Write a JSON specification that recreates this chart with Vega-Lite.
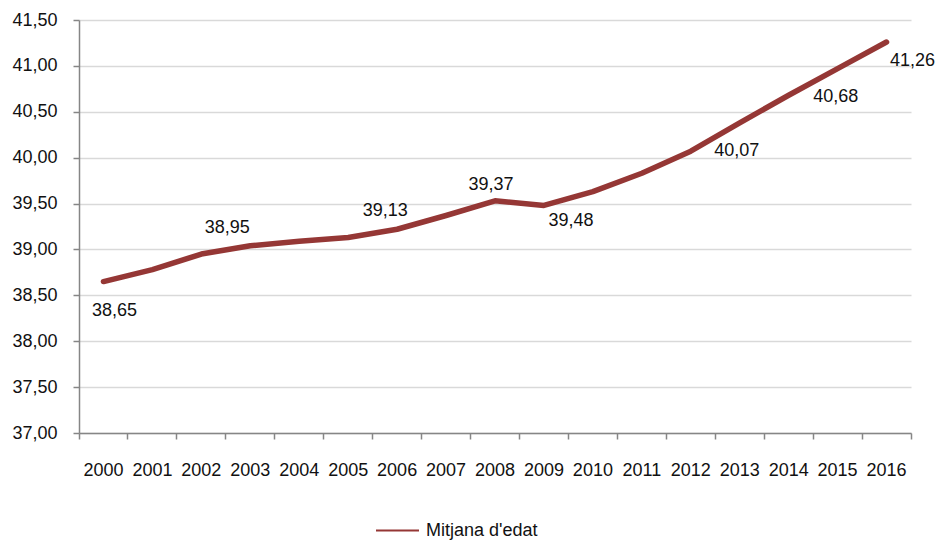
{
  "$schema": "https://vega.github.io/schema/vega-lite/v6.json",
  "width": 832,
  "height": 413,
  "autosize": {"type": "none"},
  "padding": {"left": 79, "top": 20, "right": 28, "bottom": 107},
  "background": "white",
  "config": {
    "locale": {"number": {"decimal": ",", "thousands": ".", "grouping": [3], "currency": ["", " €"]}},
    "view": {"stroke": null},
    "font": "Liberation Sans",
    "text": {"font": "Liberation Sans", "fontSize": 18, "color": "#111111"}
  },
  "data": {
    "values": [
      {"year": 2000, "edat": 38.65, "serie": "Mitjana d'edat"},
      {"year": 2001, "edat": 38.78, "serie": "Mitjana d'edat"},
      {"year": 2002, "edat": 38.95, "serie": "Mitjana d'edat"},
      {"year": 2003, "edat": 39.04, "serie": "Mitjana d'edat"},
      {"year": 2004, "edat": 39.09, "serie": "Mitjana d'edat"},
      {"year": 2005, "edat": 39.13, "serie": "Mitjana d'edat"},
      {"year": 2006, "edat": 39.22, "serie": "Mitjana d'edat"},
      {"year": 2007, "edat": 39.37, "serie": "Mitjana d'edat"},
      {"year": 2008, "edat": 39.53, "serie": "Mitjana d'edat"},
      {"year": 2009, "edat": 39.48, "serie": "Mitjana d'edat"},
      {"year": 2010, "edat": 39.63, "serie": "Mitjana d'edat"},
      {"year": 2011, "edat": 39.83, "serie": "Mitjana d'edat"},
      {"year": 2012, "edat": 40.07, "serie": "Mitjana d'edat"},
      {"year": 2013, "edat": 40.38, "serie": "Mitjana d'edat"},
      {"year": 2014, "edat": 40.68, "serie": "Mitjana d'edat"},
      {"year": 2015, "edat": 40.97, "serie": "Mitjana d'edat"},
      {"year": 2016, "edat": 41.26, "serie": "Mitjana d'edat"}
    ]
  },
  "encoding": {
    "x": {
      "field": "year",
      "type": "ordinal",
      "bandPosition": 0.5,
      "scale": {"type": "band", "paddingInner": 0, "paddingOuter": 0},
      "axis": {
        "title": null,
        "labelAngle": 0,
        "bandPosition": 1,
        "tickExtra": true,
        "domainColor": "#868686",
        "domainWidth": 1.5,
        "tickColor": "#868686",
        "tickWidth": 1.5,
        "tickSize": 6,
        "labelPadding": 22,
        "labelFont": "Liberation Sans",
        "labelFontSize": 18,
        "labelColor": "#111111",
        "grid": false
      }
    },
    "y": {
      "field": "edat",
      "type": "quantitative",
      "scale": {"domain": [37, 41.5], "nice": false, "zero": false},
      "axis": {
        "title": null,
        "values": [37, 37.5, 38, 38.5, 39, 39.5, 40, 40.5, 41, 41.5],
        "format": ".2f",
        "domainColor": "#868686",
        "domainWidth": 1.5,
        "tickColor": "#868686",
        "tickWidth": 1.5,
        "tickSize": 6,
        "labelPadding": 16,
        "labelFont": "Liberation Sans",
        "labelFontSize": 18,
        "labelColor": "#111111",
        "grid": true,
        "gridColor": "#d9d9d9",
        "gridWidth": 1.3
      }
    }
  },
  "layer": [
    {
      "mark": {"type": "line", "strokeWidth": 5.5, "strokeCap": "round", "strokeJoin": "round"},
      "encoding": {
        "color": {
          "field": "serie",
          "type": "nominal",
          "scale": {"range": ["#953735"]},
          "legend": {
            "title": null,
            "orient": "none",
            "legendX": 296,
            "legendY": 488,
            "symbolType": "stroke",
            "symbolSize": 1849,
            "symbolStrokeWidth": 2,
            "labelFont": "Liberation Sans",
            "labelFontSize": 18,
            "labelColor": "#111111",
            "labelOffset": 6
          }
        }
      }
    },
    {"transform": [{"filter": "datum.year == 2000"}], "mark": {"type": "text", "dx": 11, "dy": 29}, "encoding": {"text": {"field": "edat", "type": "quantitative", "format": ".2f"}}},
    {"transform": [{"filter": "datum.year == 2002"}], "mark": {"type": "text", "dx": 26, "dy": -26}, "encoding": {"text": {"field": "edat", "type": "quantitative", "format": ".2f"}}},
    {"transform": [{"filter": "datum.year == 2005"}], "mark": {"type": "text", "dx": 37, "dy": -27}, "encoding": {"text": {"field": "edat", "type": "quantitative", "format": ".2f"}}},
    {"transform": [{"filter": "datum.year == 2007"}], "mark": {"type": "text", "dx": 45, "dy": -30}, "encoding": {"text": {"field": "edat", "type": "quantitative", "format": ".2f"}}},
    {"transform": [{"filter": "datum.year == 2009"}], "mark": {"type": "text", "dx": 27, "dy": 16}, "encoding": {"text": {"field": "edat", "type": "quantitative", "format": ".2f"}}},
    {"transform": [{"filter": "datum.year == 2012"}], "mark": {"type": "text", "dx": 46, "dy": 0}, "encoding": {"text": {"field": "edat", "type": "quantitative", "format": ".2f"}}},
    {"transform": [{"filter": "datum.year == 2014"}], "mark": {"type": "text", "dx": 47, "dy": 2}, "encoding": {"text": {"field": "edat", "type": "quantitative", "format": ".2f"}}},
    {"transform": [{"filter": "datum.year == 2016"}], "mark": {"type": "text", "dx": 26, "dy": 19}, "encoding": {"text": {"field": "edat", "type": "quantitative", "format": ".2f"}}}
  ]
}
